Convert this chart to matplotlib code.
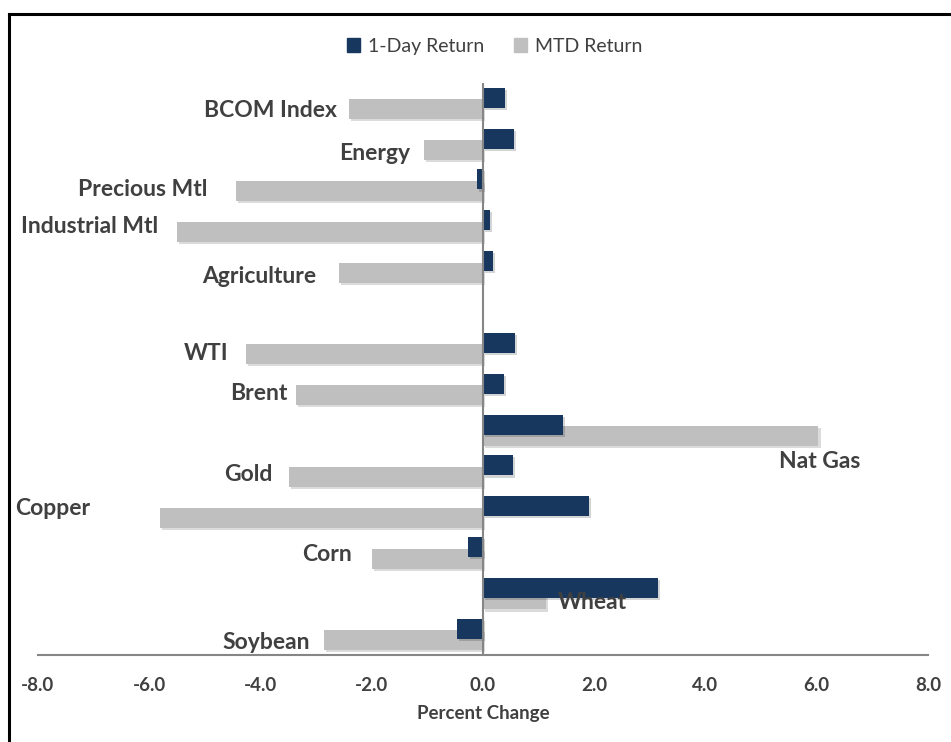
"""Commodity returns: 1-day vs month-to-date, horizontal bar chart."""
import matplotlib
matplotlib.use("Agg")
import matplotlib.pyplot as plt
import matplotlib.patheffects as pe
from matplotlib.lines import Line2D

categories = ["BCOM Index", "Energy", "Precious Mtl", "Industrial Mtl", "Agriculture", "",
              "WTI", "Brent", "Nat Gas", "Gold", "Copper", "Corn", "Wheat", "Soybean"]
one_day = [0.40, 0.56, -0.11, 0.13, 0.18, None, 0.58, 0.38, 1.44, 0.54, 1.91, -0.27, 3.15, -0.47]
mtd = [-2.41, -1.06, -4.44, -5.50, -2.59, None, -4.26, -3.36, 6.03, -3.49, -5.81, -2.00, 1.13, -2.86]

# label placement relative to the end of the MTD bar (pixels), Excel labels were dragged by hand
label_offsets = [(-12, -1, "right"), (-14, -3, "right"), (-29, 1, "right"), (-19, 5, "right"),
                 (-23, -4, "right"), None, (-18, 1, "right"), (-9, 2, "right"),
                 (-39, -25, "left"), (-16, 2, "right"), (-70, 9, "right"), (-20, 4, "right"),
                 (12, -3, "left"), (-14, -2, "right")]

NAVY = "#17375E"
GRAY = "#BFBFBF"
TEXT = "#404040"
AXIS = "#868686"
plt.rcParams["font.family"] = ["Lato", "DejaVu Sans"]

fig = plt.figure(figsize=(9.51, 7.42), dpi=100)
ax = fig.add_axes([38 / 951, 1 - 655 / 742, 890 / 951, 572 / 742])

shadow = [pe.SimplePatchShadow(offset=(1.5, -1.5), alpha=0.18), pe.Normal()]
pos = [i for i, v in enumerate(mtd) if v is not None]
ax.barh([p + 0.14 for p in pos], [mtd[p] for p in pos], height=0.49,
        color=GRAY, path_effects=shadow, zorder=2)
ax.barh([p - 0.14 for p in pos], [one_day[p] for p in pos], height=0.49,
        color=NAVY, path_effects=shadow, zorder=3)

for p in pos:
    dx, dy, ha = label_offsets[p]
    ax.annotate(categories[p], (mtd[p], p + 0.14), xytext=(dx, dy),
                textcoords="offset pixels", ha=ha, va="center",
                fontsize=16.5, fontweight="bold", color=TEXT, zorder=4)

ax.set_xlim(-8, 8)
ax.set_ylim(13.5, -0.5)
ax.set_xticks(range(-8, 9, 2))
ax.set_xticklabels([f"{t:.1f}" for t in range(-8, 9, 2)])
ax.set_yticks([])
ax.tick_params(axis="x", length=0, pad=16, labelsize=13.5, labelcolor=TEXT)
for lab in ax.get_xticklabels():
    lab.set_fontweight("bold")
ax.set_xlabel("Percent Change", fontsize=13.5, fontweight="bold", color=TEXT, labelpad=8)

for side in ["top", "right", "left"]:
    ax.spines[side].set_visible(False)
ax.spines["bottom"].set_color(AXIS)
ax.spines["bottom"].set_linewidth(1.5)
ax.axvline(0, color=AXIS, lw=1.5, zorder=5)

handles = [plt.Rectangle((0, 0), 1, 1, color=NAVY), plt.Rectangle((0, 0), 1, 1, color=GRAY)]
fig.legend(handles, ["1-Day Return", "MTD Return"], loc="center", bbox_to_anchor=(0.52, 0.938),
           ncol=2, frameon=False, handlelength=0.7, handleheight=0.7, handletextpad=0.4,
           columnspacing=1.5, prop={"size": 14}, labelcolor=TEXT)

# black frame of the original screenshot (only top and left visible)
fig.add_artist(Line2D([8.5 / 951, 1], [1 - 13.5 / 742] * 2, color="black", lw=2.2,
                      transform=fig.transFigure))
fig.add_artist(Line2D([8.5 / 951] * 2, [0, 1 - 13.5 / 742], color="black", lw=2.2,
                      transform=fig.transFigure))

fig.savefig("out.png", dpi=100)
